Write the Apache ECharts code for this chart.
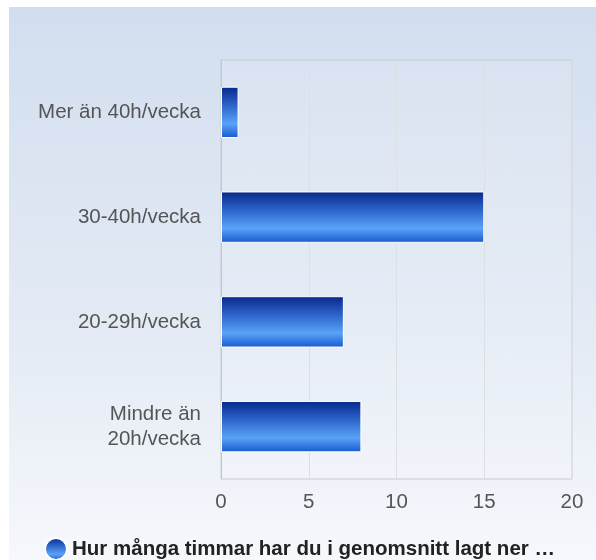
<!DOCTYPE html>
<html>
<head>
<meta charset="utf-8">
<script src="https://cdn.jsdelivr.net/npm/echarts@6/dist/echarts.min.js"></script>
<style>
  html, body { margin: 0; padding: 0; background: #fff; }
  #panel {
    position: absolute; left: 9px; top: 7px; width: 587px; height: 553px;
    background: linear-gradient(to bottom, #d2deef 0%, #e4ebf5 60%, #f6f8fc 100%);
  }
  #chart { width: 587px; height: 553px; }
</style>
</head>
<body>
<div id="panel"><div id="chart"></div></div>
<script>
var categories = ['Mer än 40h/vecka', '30-40h/vecka', '20-29h/vecka', 'Mindre än\n20h/vecka'];
var values = [1, 15, 7, 8];
var seriesName = 'Hur många timmar har du i genomsnitt lagt ner …';

var barGradient = new echarts.graphic.LinearGradient(0, 0, 0, 1, [
  { offset: 0, color: '#08278a' },
  { offset: 0.35, color: '#2b62c8' },
  { offset: 0.72, color: '#5aa2f8' },
  { offset: 1, color: '#1858cc' }
]);

var chart = echarts.init(document.getElementById('chart'));
chart.setOption({
  backgroundColor: 'transparent',
  animation: false,
  textStyle: { fontFamily: 'Liberation Sans, Arial, sans-serif' },
  grid: { left: 212, top: 53, right: 24, bottom: 81, show: true, borderColor: '#c8ccd2', borderWidth: 1, backgroundColor: 'rgba(255,255,255,0.12)' },
  legend: {
    bottom: -6, left: 30,
    itemWidth: 22, itemHeight: 22, icon: 'circle', itemGap: 10,
    textStyle: { fontSize: 20.5, fontWeight: 'bold', color: '#222' },
    data: [seriesName]
  },
  xAxis: {
    type: 'value', min: 0, max: 20, interval: 5,
    axisLine: { show: false }, axisTick: { show: false },
    splitLine: { lineStyle: { color: '#dcdfe3', width: 1 } },
    axisLabel: { fontSize: 20.5, color: '#555', margin: 13 }
  },
  yAxis: {
    type: 'category', inverse: true, data: categories,
    axisLine: { show: true, lineStyle: { color: '#b8c8e0' } }, axisTick: { show: false },
    axisLabel: { fontSize: 20.5, color: '#555', margin: 20, lineHeight: 25, padding: [4, 0, 0, 0] }
  },
  series: [{
    name: seriesName,
    type: 'bar',
    data: values,
    barWidth: '49%',
    itemStyle: { color: barGradient, borderColor: '#ffffff', borderWidth: 1 }
  }]
});
</script>
</body>
</html>
